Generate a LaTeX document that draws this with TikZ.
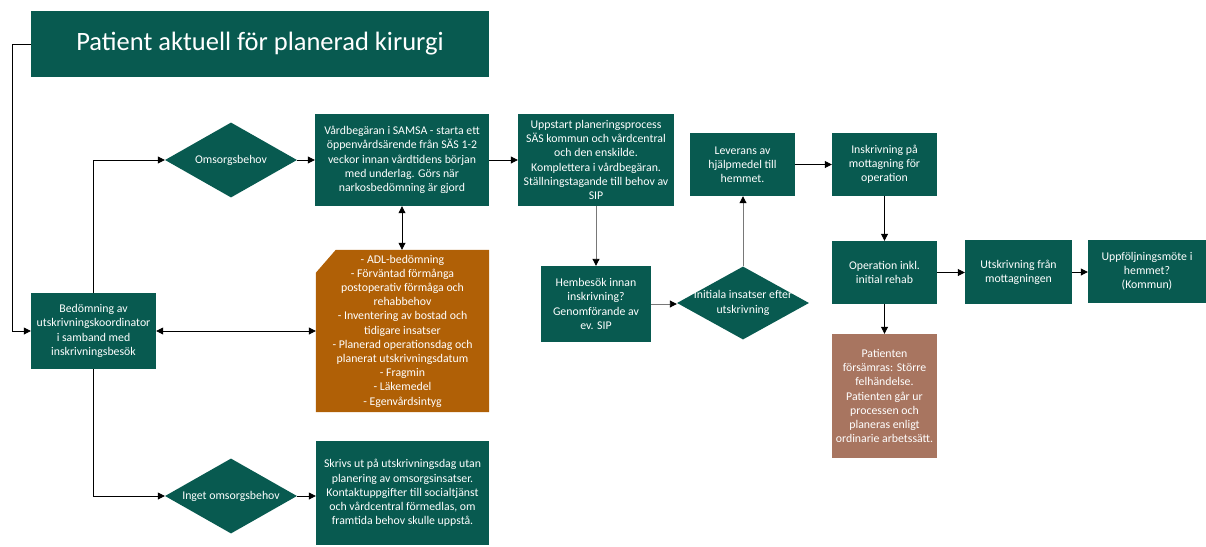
\documentclass[tikz,border=0pt]{standalone}
\usepackage{fontspec}
\setmainfont{Carlito}
\usetikzlibrary{shapes.geometric,arrows.meta}
\definecolor{grn}{RGB}{8,90,80}
\definecolor{org}{RGB}{176,96,6}
\definecolor{brn}{RGB}{168,117,96}
\definecolor{lgr}{RGB}{120,120,120}
\tikzset{
  box/.style={rectangle,fill=grn,text=white,align=center,inner sep=1pt,
    font=\fontsize{11.8}{14.2}\selectfont},
  dia/.style={diamond,fill=grn,inner sep=0pt,minimum width=132pt,minimum height=75pt},
  diatext/.style={text=white,align=center,font=\fontsize{11.8}{14.2}\selectfont},
  arr/.style={draw=black,line width=0.8pt,-{Triangle[length=7pt,width=7pt]}},
  darr/.style={draw=black,line width=0.8pt,{Triangle[length=7pt,width=7pt]}-{Triangle[length=7pt,width=7pt]}},
  garr/.style={draw=lgr,line width=0.9pt,-{Triangle[length=7pt,width=7pt,color=black]}},
}
\begin{document}
\begin{tikzpicture}[x=1pt,y=-1pt]
\useasboundingbox (0,0) rectangle (1206,546);
% nodes
\node[box,minimum width=458pt,minimum height=66pt,font=\fontsize{26.5}{30}\selectfont] (title) at (260,44) {Patient aktuell för planerad kirurgi};
\node[box,minimum width=125pt,minimum height=76pt] (bed) at (93.5,331) {Bedömning av\\utskrivningskoordinator\\i samband med\\inskrivningsbesök};
\node[dia] (oms) at (231,160) {};
\node[diatext] at (oms) {Omsorgsbehov};
\node[box,minimum width=174pt,minimum height=92pt] (vard) at (402,160) {Vårdbegäran i SAMSA - starta ett\\öppenvårdsärende från SÄS 1-2\\veckor innan vårdtidens början\\med underlag. Görs när\\narkosbedömning är gjord};
\node[rectangle,inner sep=0pt,minimum width=173pt,minimum height=162pt] (org) at (402.5,331) {};
\fill[org] ([yshift=-23pt]org.north west) -- ([xshift=20pt]org.north west) -- (org.north east) -- (org.south east) -- (org.south west) -- cycle;
\node[text=white,align=center,font=\fontsize{11.8}{14.2}\selectfont] at (org) {- ADL-bedömning\\- Förväntad förmånga\\postoperativ förmåga och\\rehabbehov\\- Inventering av bostad och\\tidigare insatser\\- Planerad operationsdag och\\planerat utskrivningsdatum\\- Fragmin\\- Läkemedel\\- Egenvårdsintyg};
\node[dia] (inget) at (231,496) {};
\node[diatext] at (inget) {Inget omsorgsbehov};
\node[box,minimum width=173pt,minimum height=104pt] (skr) at (402.5,493) {Skrivs ut på utskrivningsdag utan\\planering av omsorgsinsatser.\\Kontaktuppgifter till socialtjänst\\och vårdcentral förmedlas, om\\framtida behov skulle uppstå.};
\node[box,minimum width=156pt,minimum height=92pt] (upp) at (596,160) {Uppstart planeringsprocess\\SÄS kommun och vårdcentral\\och den enskilde.\\Komplettera i vårdbegäran.\\Ställningstagande till behov av\\SIP};
\node[box,minimum width=110pt,minimum height=76pt] (hem) at (596,304) {Hembesök innan\\inskrivning?\\Genomförande av\\ev. SIP};
\node[dia,minimum height=73pt] (ini) at (743,303) {};
\node[diatext] at (ini) {Initiala insatser efter\\utskrivning};
\node[box,minimum width=105pt,minimum height=63pt] (lev) at (742.5,164.5) {Leverans av\\hjälpmedel till\\hemmet.};
\node[box,minimum width=105pt,minimum height=63pt] (insk) at (884.5,164.5) {Inskrivning på\\mottagning för\\operation};
\node[box,minimum width=105pt,minimum height=63pt] (oper) at (884.5,272.5) {Operation inkl.\\initial rehab};
\node[box,minimum width=107pt,minimum height=64pt] (utsk) at (1018.5,272) {Utskrivning från\\mottagningen};
\node[box,minimum width=118pt,minimum height=63pt] (uppf) at (1147,271.5) {Uppföljningsmöte i\\hemmet?\\(Kommun)};
\node[box,fill=brn,minimum width=105pt,minimum height=124pt] (pat) at (884.5,396) {Patienten\\försämras: Större\\felhändelse.\\Patienten går ur\\processen och\\planeras enligt\\ordinarie arbetssätt.};
% connectors
\coordinate (c1) at (12,44);
\draw[arr] (title.west) -- (c1) |- (bed.west);
\draw[arr] (bed.north) |- (oms.west);
\draw[arr] (bed.south) |- (inget.west);
\draw[arr] (oms.east) -- (vard.west);
\draw[darr] (vard.south) -- (vard.south |- org.north);
\draw[darr] (bed.east) -- (org.west);
\draw[arr] (inget.east) -- (skr.west |- inget.east);
\draw[arr] (vard.east) -- (upp.west);
\draw[garr] (upp.south) -- (hem.north);
\draw[garr] (hem.east) -- (ini.west |- hem.east);
\draw[garr] (ini.north) -- (ini.north |- lev.south);
\draw[arr] (lev.east) -- (insk.west);
\draw[arr] (insk.south) -- (oper.north);
\draw[arr] (oper.east) -- (utsk.west |- oper.east);
\draw[arr] (utsk.east) -- (uppf.west |- utsk.east);
\draw[arr] (oper.south) -- (pat.north);
\end{tikzpicture}
\end{document}
